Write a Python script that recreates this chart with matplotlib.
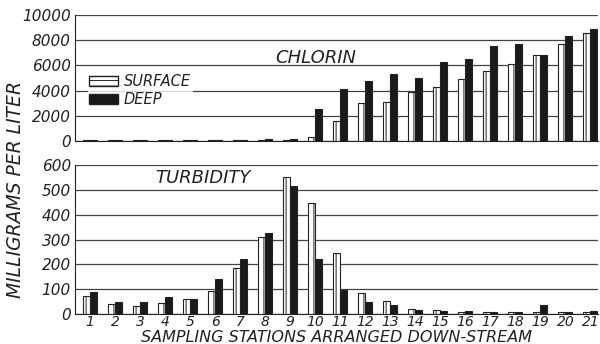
import matplotlib
matplotlib.use("Agg")
import matplotlib.pyplot as plt
import numpy as np
from matplotlib.patches import Patch

stations = [str(i) for i in range(1, 22)]
chlorin_surface = [50, 50, 50, 50, 50, 50, 50, 60, 80, 300, 1600, 3000, 3070, 3870, 4320, 4900, 5550, 6080, 6800, 7730, 8610]
chlorin_deep = [50, 50, 50, 50, 50, 50, 60, 120, 150, 2530, 4150, 4750, 5330, 5010, 6270, 6530, 7520, 7680, 6800, 8320, 8850]
turb_surface = [71, 40, 32, 44, 62, 91, 186, 309, 550, 448, 247, 84, 51, 21, 17, 8, 7, 8, 8, 9, 9]
turb_deep = [88, 47, 47, 68, 62, 141, 221, 327, 517, 220, 97, 49, 37, 16, 11, 13, 8, 8, 37, 8, 11]
chlorin_ticks = [0, 2000, 4000, 6000, 8000, 10000]
turb_ticks = [0, 100, 200, 300, 400, 500, 600]

plt.rcParams['hatch.linewidth'] = 0.7
ink = '#222222'
fkw = dict(family='DejaVu Sans', style='italic', color=ink)

fig = plt.figure(figsize=(6, 3.44), dpi=100)
W, H = 600, 344
ax1 = fig.add_axes([75 / W, 1 - 141 / H, (598 - 75) / W, (141 - 15) / H])
ax2 = fig.add_axes([75 / W, 1 - 314 / H, (598 - 75) / W, (314 - 165) / H])

x = np.arange(1, 22)
bw = 0.28

def style(ax, ticks, data_s, data_d):
    ax.bar(x - bw / 2, data_s, bw, color='white', edgecolor=ink, hatch='|||', linewidth=0.8, zorder=3)
    ax.bar(x + bw / 2, data_d, bw, color='#1a1a1a', edgecolor=ink, linewidth=0.8, zorder=3)
    ax.set_xlim(0.4, 21.3)
    ax.set_ylim(0, ticks[-1])
    ax.set_yticks(ticks)
    ax.set_yticklabels([str(t) for t in ticks], fontsize=11, **fkw)
    ax.yaxis.grid(True, color='#444444', linewidth=0.9, zorder=0)
    for s in ['top', 'right']:
        ax.spines[s].set_visible(False)
    ax.spines['left'].set_color(ink)
    ax.spines['bottom'].set_color(ink)
    ax.tick_params(axis='both', length=0, pad=3)

style(ax1, chlorin_ticks, chlorin_surface, chlorin_deep)
ax1.set_xticks([])
style(ax2, turb_ticks, turb_surface, turb_deep)
ax2.set_xticks(x)
ax2.set_xticklabels(stations, fontsize=10, **fkw)
ax2.tick_params(axis='x', pad=1)

ax1.text(0.46, 0.66, 'CHLORIN', transform=ax1.transAxes, fontsize=13, ha='center', va='center', **fkw)
ax2.text(0.245, 0.91, 'TURBIDITY', transform=ax2.transAxes, fontsize=13, ha='center', va='center', **fkw)

handles = [Patch(facecolor='white', edgecolor=ink, hatch='---', label='SURFACE'),
           Patch(facecolor='#1a1a1a', edgecolor=ink, label='DEEP')]
leg = ax1.legend(handles=handles, loc='upper left', bbox_to_anchor=(0.01, 0.60), frameon=True,
                 prop=dict(family='DejaVu Sans', style='italic', size=10.5), handlelength=2.0, handleheight=0.7,
                 labelspacing=0.2, borderpad=0.1, handletextpad=0.4)
leg.get_frame().set_facecolor('white')
leg.get_frame().set_edgecolor('none')
for t in leg.get_texts():
    t.set_color(ink)

fig.text(16 / W, 1 - 190 / H, 'MILLIGRAMS PER LITER', rotation=90, ha='center', va='center', fontsize=13.5, **fkw)
fig.text(336 / W, 1 - 337.5 / H, 'SAMPLING STATIONS ARRANGED DOWN-STREAM', ha='center', va='center', fontsize=11.5, **fkw)

fig.savefig('out.png', dpi=100, facecolor='white')
